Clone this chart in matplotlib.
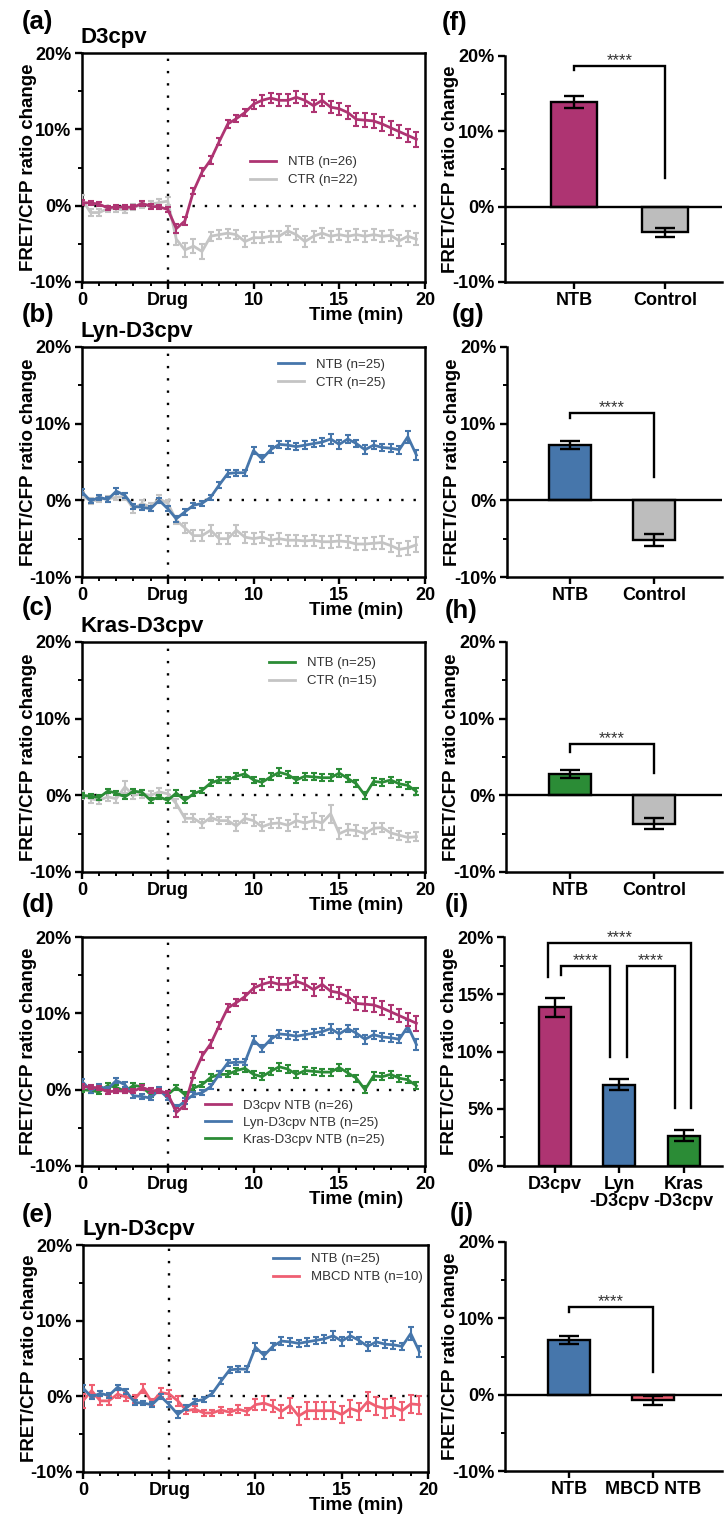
import matplotlib as m
m.use("Agg")
import matplotlib.pyplot as plt
from matplotlib.ticker import MultipleLocator, FixedLocator, FuncFormatter
from matplotlib.lines import Line2D

plt.rcParams['font.family'] = ['Liberation Sans', 'DejaVu Sans']
plt.rcParams['font.weight'] = 'bold'
plt.rcParams['axes.labelweight'] = 'bold'

# ---- time-course data (% FRET/CFP ratio change), sampled every 0.5 min
time = [0.0, 0.5, 1.0, 1.5, 2.0, 2.5, 3.0, 3.5, 4.0, 4.5,
        5.0, 5.5, 6.0, 6.5, 7.0, 7.5, 8.0, 8.5, 9.0, 9.5,
        10.0, 10.5, 11.0, 11.5, 12.0, 12.5, 13.0, 13.5, 14.0, 14.5,
        15.0, 15.5, 16.0, 16.5, 17.0, 17.5, 18.0, 18.5, 19.0, 19.5]

d3_ntb = [0.4, 0.35, 0.2, -0.3, -0.15, -0.2, -0.2, 0.3, -0.1, -0.15,
          -0.5, -3.0, -2.0, 1.9, 4.4, 6.0, 8.4, 10.7, 11.4, 12.2,
          13.3, 13.8, 14.1, 13.8, 13.8, 14.2, 13.8, 13.1, 13.8, 12.9,
          12.7, 12.2, 11.3, 11.2, 11.1, 10.7, 10.2, 9.7, 9.2, 8.7]
d3_ntb_err = [0.3, 0.3, 0.3, 0.3, 0.3, 0.3, 0.3, 0.3, 0.3, 0.3,
              0.3, 0.6, 0.5, 0.4, 0.5, 0.5, 0.5, 0.5, 0.5, 0.5,
              0.6, 0.7, 0.7, 0.8, 0.8, 0.8, 0.8, 0.8, 0.8, 0.8,
              0.8, 0.8, 0.9, 0.9, 0.9, 0.9, 0.9, 0.9, 0.9, 1.0]
d3_ctr = [0.8, -0.9, -0.9, -0.4, -0.4, -0.6, -0.2, 0.1, 0.2, 0.4,
          0.6, -4.4, -5.8, -5.3, -6.0, -4.0, -3.8, -3.6, -3.8, -4.7,
          -4.2, -4.2, -4.0, -4.0, -3.3, -3.8, -4.7, -4.0, -3.6, -4.0,
          -3.8, -4.0, -3.8, -4.0, -3.8, -4.0, -3.9, -4.6, -4.0, -4.4]
d3_ctr_err = [0.6, 0.4, 0.4, 0.4, 0.4, 0.4, 0.4, 0.4, 0.4, 0.5,
              0.5, 0.8, 0.9, 0.9, 1.0, 0.6, 0.6, 0.6, 0.6, 0.7,
              0.7, 0.7, 0.7, 0.7, 0.6, 0.7, 0.7, 0.7, 0.7, 0.7,
              0.7, 0.7, 0.7, 0.7, 0.7, 0.7, 0.7, 0.7, 0.7, 0.8]

lyn_ntb = [1.1, -0.1, 0.4, 0.1, 1.2, 0.65, -0.8, -0.9, -1.1, 0.0,
           -1.1, -2.4, -1.5, -0.65, -0.4, 0.4, 2.0, 3.5, 3.6, 3.6,
           6.5, 5.4, 6.6, 7.3, 7.2, 7.0, 7.2, 7.4, 7.6, 8.0,
           7.3, 8.0, 7.4, 6.6, 7.2, 6.9, 6.8, 6.6, 8.3, 5.9]
lyn_ntb_err = [0.35, 0.3, 0.3, 0.3, 0.35, 0.3, 0.3, 0.3, 0.3, 0.3,
               0.3, 0.4, 0.35, 0.35, 0.35, 0.35, 0.4, 0.4, 0.4, 0.4,
               0.5, 0.45, 0.45, 0.5, 0.5, 0.5, 0.5, 0.5, 0.5, 0.6,
               0.6, 0.5, 0.5, 0.6, 0.5, 0.5, 0.5, 0.5, 0.8, 0.7]
lyn_ctr = [0.65, -0.1, 0.2, 0.2, 0.4, 0.5, -1.1, -0.4, -0.9, 0.2,
           -0.4, -2.6, -3.6, -4.6, -4.6, -3.9, -5.0, -5.0, -3.9, -4.8,
           -5.0, -4.8, -5.2, -5.0, -5.2, -5.2, -5.3, -5.2, -5.4, -5.4,
           -5.3, -5.4, -5.7, -5.7, -5.6, -5.5, -5.9, -6.4, -6.2, -5.8]
lyn_ctr_err = [0.4, 0.4, 0.4, 0.4, 0.4, 0.4, 0.6, 0.5, 0.5, 0.5,
               0.5, 0.5, 0.6, 0.7, 0.7, 0.7, 0.7, 0.7, 0.7, 0.7,
               0.7, 0.7, 0.7, 0.7, 0.7, 0.7, 0.7, 0.7, 0.8, 0.8,
               0.8, 0.8, 0.8, 0.8, 0.8, 0.8, 0.8, 0.8, 0.9, 1.0]

kras_ntb = [0.0, -0.1, -0.3, 0.55, 0.3, -0.2, 0.55, 0.4, -0.65, -0.2,
            -0.65, 0.3, -0.65, 0.2, 0.65, 1.6, 2.0, 2.0, 2.5, 2.8,
            2.0, 1.7, 2.4, 3.0, 2.7, 2.0, 2.5, 2.4, 2.3, 2.3,
            2.9, 2.2, 1.5, 0.0, 1.8, 1.7, 2.0, 1.5, 1.3, 0.5]
kras_ntb_err = [0.3, 0.3, 0.3, 0.3, 0.3, 0.3, 0.3, 0.3, 0.3, 0.3,
                0.35, 0.35, 0.4, 0.35, 0.35, 0.4, 0.4, 0.4, 0.4, 0.45,
                0.45, 0.45, 0.45, 0.5, 0.5, 0.45, 0.45, 0.45, 0.45, 0.45,
                0.5, 0.45, 0.45, 0.45, 0.5, 0.45, 0.45, 0.45, 0.45, 0.45]
kras_ctr = [0.0, -0.45, -0.65, -0.2, -0.45, 1.1, 0.0, 0.2, 0.0, 0.45,
            0.2, -1.1, -3.0, -3.0, -3.7, -2.9, -3.3, -3.3, -4.0, -3.0,
            -3.3, -4.1, -3.7, -3.6, -3.9, -3.3, -3.6, -3.3, -3.6, -2.4,
            -5.0, -4.5, -4.6, -5.0, -4.3, -4.2, -4.9, -5.2, -5.5, -5.4]
kras_ctr_err = [0.5, 0.5, 0.5, 0.5, 0.5, 0.8, 0.5, 0.5, 0.5, 0.5,
                0.5, 0.6, 0.5, 0.5, 0.6, 0.5, 0.5, 0.5, 0.6, 0.6,
                0.7, 0.6, 0.6, 0.7, 0.7, 0.8, 0.8, 1.0, 0.9, 1.2,
                0.7, 0.7, 0.7, 0.7, 0.7, 0.6, 0.6, 0.6, 0.6, 0.6]

mbcd_ntb = [-0.6, 0.75, -0.6, -0.6, 0.3, -0.1, -0.35, 1.0, -0.8, 0.5,
            0.3, -0.6, -1.9, -1.7, -2.2, -2.2, -1.8, -2.1, -1.7, -2.0,
            -1.1, -0.9, -1.3, -2.0, -1.2, -2.6, -1.9, -1.9, -1.9, -1.9,
            -2.4, -1.6, -2.0, -0.7, -1.3, -1.6, -1.4, -1.9, -1.0, -1.1]
mbcd_ntb_err = [0.9, 0.8, 0.6, 0.6, 0.5, 0.5, 0.5, 0.6, 0.5, 0.6,
                0.6, 0.7, 0.5, 0.4, 0.4, 0.4, 0.4, 0.4, 0.5, 0.5,
                0.7, 0.9, 0.8, 0.9, 1.0, 1.2, 1.1, 1.1, 1.1, 1.1,
                1.1, 1.1, 1.1, 1.3, 1.2, 1.2, 1.2, 1.2, 1.2, 1.2]

time_ticks = [0, 5, 10, 15, 20]
time_ticklabels = ["0", "Drug", "10", "15", "20"]

# ---- bar data (mean, error)
f_cats = ["NTB", "Control"]
f_vals = [13.9, -3.4]
f_errs = [0.85, 0.6]
g_cats = ["NTB", "Control"]
g_vals = [7.2, -5.15]
g_errs = [0.5, 0.8]
h_cats = ["NTB", "Control"]
h_vals = [2.75, -3.7]
h_errs = [0.5, 0.75]
i_cats = ["D3cpv", "Lyn\n-D3cpv", "Kras\n-D3cpv"]
i_vals = [13.85, 7.1, 2.65]
i_errs = [0.85, 0.5, 0.5]
j_cats = ["NTB", "MBCD NTB"]
j_vals = [7.15, -0.75]
j_errs = [0.5, 0.6]

MAG = '#AE3472'
BLUE = '#4676AB'
GREEN = '#2B8C36'
GRAY = '#C4C4C4'
RED = '#EF5F72'
BAR_GRAY = '#BDBDBD'

W, H = 724, 1515
fig = plt.figure(figsize=(W / 100, H / 100), dpi=100)


def rect(x0, y0, x1, y1):
    return [x0 / W, 1 - y1 / H, (x1 - x0) / W, (y1 - y0) / H]


pct = FuncFormatter(lambda v, p: f"{v:.0f}%")
DOT = (0, (1.0, 4.2))


def style_ticks(ax):
    ax.tick_params(which='major', direction='out', length=5, width=1.7,
                   labelsize=13, pad=2.5)
    ax.tick_params(which='minor', direction='out', length=3.2, width=1.4)
    for s in ax.spines.values():
        s.set_linewidth(1.8)


def time_panel(box, series, leg_xy, leg_spacing=0.45):
    # series are listed in legend order; the first one is drawn on top
    ax = fig.add_axes(rect(*box))
    ax.axhline(0, color='k', ls=DOT, lw=1.7, zorder=1)
    ax.axvline(5, color='k', ls=DOT, lw=1.7, zorder=1)
    handles = []
    for k, (y, e, c, lab) in enumerate(series):
        ax.errorbar(time, y, yerr=e, color=c, lw=2.0, elinewidth=1.5,
                    capsize=2.2, capthick=1.5, zorder=10 - k)
        handles.append(Line2D([], [], color=c, lw=2.0, label=lab))
    ax.set_xlim(0, 20)
    ax.set_ylim(-10, 20)
    ax.xaxis.set_major_locator(FixedLocator(time_ticks))
    ax.set_xticklabels(time_ticklabels)
    ax.xaxis.set_minor_locator(MultipleLocator(1))
    ax.yaxis.set_major_locator(MultipleLocator(10))
    ax.yaxis.set_minor_locator(MultipleLocator(5))
    ax.yaxis.set_major_formatter(pct)
    style_ticks(ax)
    w = box[2] - box[0]
    ax.set_ylabel("FRET/CFP ratio change", fontsize=13.5)
    ax.yaxis.set_label_coords(-45 / w, 0.5)
    ax.set_xlabel("Time (min)", fontsize=13.5, ha='right')
    ax.xaxis.set_label_coords((403 - box[0]) / w, -0.11)
    leg = ax.legend(handles=handles, loc='upper left', bbox_to_anchor=leg_xy,
                    frameon=False, borderaxespad=0, borderpad=0,
                    handlelength=2.0, handletextpad=0.9,
                    labelspacing=leg_spacing,
                    prop={'size': 9.5, 'weight': 'normal'})
    for t in leg.get_texts():
        t.set_color('#333333')
    return ax


def bar_panel(box, cats, vals, errs, colors, xlim, ylim, minor, brackets):
    ax = fig.add_axes(rect(*box))
    x = list(range(len(cats)))
    ax.bar(x, vals, width=0.5, color=colors, edgecolor='k', linewidth=1.7,
           zorder=2)
    ax.errorbar(x, vals, yerr=errs, fmt='none', ecolor='k', elinewidth=1.7,
                capsize=7.5, capthick=1.7, zorder=3)
    if ylim[0] < 0:
        ax.axhline(0, color='k', lw=1.7, zorder=4)
    ax.set_xlim(*xlim)
    ax.set_ylim(*ylim)
    ax.set_xticks(x)
    ax.set_xticklabels(cats, linespacing=1.0)
    ax.yaxis.set_major_locator(MultipleLocator(minor * 2))
    ax.yaxis.set_minor_locator(MultipleLocator(minor))
    ax.yaxis.set_major_formatter(pct)
    ax.spines['top'].set_visible(False)
    ax.spines['right'].set_visible(False)
    style_ticks(ax)
    w = box[2] - box[0]
    ax.set_ylabel("FRET/CFP ratio change", fontsize=13.5)
    ax.yaxis.set_label_coords(-46 / w, 0.5)
    for x0, x1, yt, yl, yr in brackets:
        ax.plot([x0, x0, x1, x1], [yl, yt, yt, yr], color='k', lw=1.7,
                solid_joinstyle='miter', clip_on=False)
        ax.annotate("****", ((x0 + x1) / 2, yt), xytext=(0, 0.5),
                    textcoords='offset points', ha='center', va='baseline',
                    fontsize=12, fontweight='normal', color='#333333',
                    annotation_clip=False)
    return ax


# ---- left column: time courses
time_panel((82, 53, 425, 282),
           [(d3_ntb, d3_ntb_err, MAG, "NTB (n=26)"),
            (d3_ctr, d3_ctr_err, GRAY, "CTR (n=22)")],
           (0.49, 0.55))
time_panel((82, 347, 425, 577),
           [(lyn_ntb, lyn_ntb_err, BLUE, "NTB (n=25)"),
            (lyn_ctr, lyn_ctr_err, GRAY, "CTR (n=25)")],
           (0.571, 0.95))
time_panel((82, 642, 425, 872),
           [(kras_ntb, kras_ntb_err, GREEN, "NTB (n=25)"),
            (kras_ctr, kras_ctr_err, GRAY, "CTR (n=15)")],
           (0.545, 0.935))
time_panel((82, 937, 425, 1166),
           [(d3_ntb, d3_ntb_err, MAG, "D3cpv NTB (n=26)"),
            (lyn_ntb, lyn_ntb_err, BLUE, "Lyn-D3cpv NTB (n=25)"),
            (kras_ntb, kras_ntb_err, GREEN, "Kras-D3cpv NTB (n=25)")],
           (0.358, 0.29), leg_spacing=0.35)
time_panel((83, 1245, 428, 1472),
           [(lyn_ntb, lyn_ntb_err, BLUE, "NTB (n=25)"),
            (mbcd_ntb, mbcd_ntb_err, RED, "MBCD NTB (n=10)")],
           (0.551, 0.965))

# ---- right column: bar summaries
bar_panel((505, 56, 722, 282), f_cats, f_vals, f_errs, [MAG, BAR_GRAY],
          (-0.758, 1.626), (-10, 20), 5,
          [(0, 1, 18.7, 18.2, 3.8)])
bar_panel((507, 347, 722, 577), g_cats, g_vals, g_errs, [BLUE, BAR_GRAY],
          (-0.754, 1.81), (-10, 20), 5,
          [(0, 1, 11.4, 10.8, 3.0)])
bar_panel((506, 642, 722, 872), h_cats, h_vals, h_errs, [GREEN, BAR_GRAY],
          (-0.762, 1.81), (-10, 20), 5,
          [(0, 1, 6.7, 5.7, 2.9)])
bar_panel((504, 937, 722, 1166), i_cats, i_vals, i_errs, [MAG, BLUE, GREEN],
          (-0.79, 2.595), (0, 20), 2.5,
          [(-0.11, 2.11, 19.5, 16.55, 5.1),
           (0.10, 0.855, 17.5, 16.7, 9.55),
           (1.115, 1.87, 17.5, 9.55, 5.1)])
bar_panel((505, 1242, 722, 1471), j_cats, j_vals, j_errs, [BLUE, RED],
          (-0.765, 1.82), (-10, 20), 5,
          [(0, 1, 11.45, 10.8, 3.0)])

# ---- panel letters and titles
letters = [("(a)", 22, 22), ("(b)", 22, 315), ("(c)", 22, 608),
           ("(d)", 22, 905), ("(e)", 22, 1215),
           ("(f)", 442, 23), ("(g)", 452, 315), ("(h)", 445, 611),
           ("(i)", 445, 905), ("(j)", 450, 1214)]
for s, x, y in letters:
    fig.text(x / W, 1 - y / H, s, fontsize=18.5, ha='left', va='center')

titles = [("D3cpv", 80, 38), ("Lyn-D3cpv", 80, 331), ("Kras-D3cpv", 80, 627),
          ("Lyn-D3cpv", 83, 1230)]
for s, x, y in titles:
    fig.text(x / W, 1 - y / H, s, fontsize=16, ha='left', va='center')

fig.savefig("out.png", dpi=100)
